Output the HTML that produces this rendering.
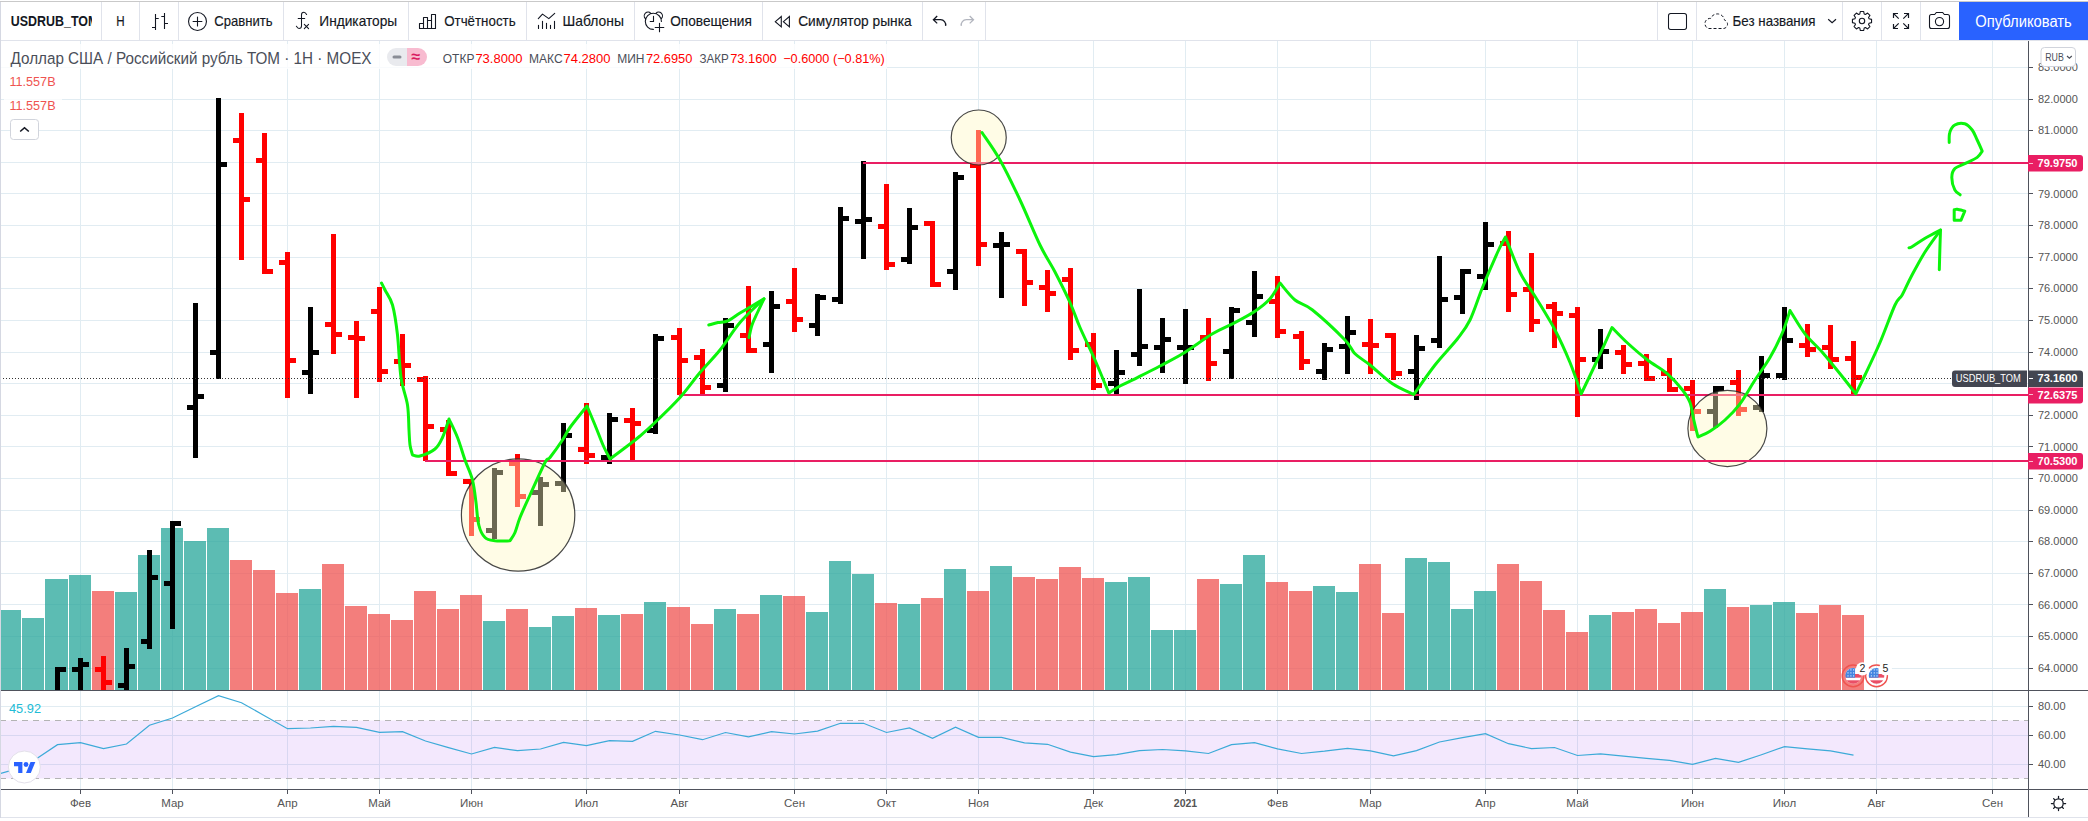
<!DOCTYPE html>
<html lang="ru"><head><meta charset="utf-8"><title>USDRUB_TOM</title>
<style>html,body{margin:0;padding:0;background:#fff;width:2088px;height:821px;overflow:hidden}svg text{white-space:pre}</style></head>
<body>
<svg id="chart" width="2088" height="821" viewBox="0 0 2088 821" style="position:absolute;left:0;top:0" font-family='"Liberation Sans", sans-serif'>
<defs><clipPath id="cp"><rect x="0" y="41" width="2028" height="649"/></clipPath><clipPath id="cr"><rect x="0" y="691" width="2028" height="98"/></clipPath></defs>
<g shape-rendering="crispEdges" fill="#e1ecf2">
<rect x="80" y="41" width="1" height="748"/>
<rect x="172" y="41" width="1" height="748"/>
<rect x="287" y="41" width="1" height="748"/>
<rect x="379" y="41" width="1" height="748"/>
<rect x="471" y="41" width="1" height="748"/>
<rect x="586" y="41" width="1" height="748"/>
<rect x="679" y="41" width="1" height="748"/>
<rect x="794" y="41" width="1" height="748"/>
<rect x="886" y="41" width="1" height="748"/>
<rect x="978" y="41" width="1" height="748"/>
<rect x="1093" y="41" width="1" height="748"/>
<rect x="1185" y="41" width="1" height="748"/>
<rect x="1277" y="41" width="1" height="748"/>
<rect x="1370" y="41" width="1" height="748"/>
<rect x="1485" y="41" width="1" height="748"/>
<rect x="1577" y="41" width="1" height="748"/>
<rect x="1692" y="41" width="1" height="748"/>
<rect x="1784" y="41" width="1" height="748"/>
<rect x="1876" y="41" width="1" height="748"/>
<rect x="1992" y="41" width="1" height="748"/>
<rect x="0" y="668" width="2028" height="1"/>
<rect x="0" y="636" width="2028" height="1"/>
<rect x="0" y="604" width="2028" height="1"/>
<rect x="0" y="573" width="2028" height="1"/>
<rect x="0" y="541" width="2028" height="1"/>
<rect x="0" y="510" width="2028" height="1"/>
<rect x="0" y="478" width="2028" height="1"/>
<rect x="0" y="446" width="2028" height="1"/>
<rect x="0" y="415" width="2028" height="1"/>
<rect x="0" y="383" width="2028" height="1"/>
<rect x="0" y="352" width="2028" height="1"/>
<rect x="0" y="320" width="2028" height="1"/>
<rect x="0" y="288" width="2028" height="1"/>
<rect x="0" y="257" width="2028" height="1"/>
<rect x="0" y="225" width="2028" height="1"/>
<rect x="0" y="193" width="2028" height="1"/>
<rect x="0" y="162" width="2028" height="1"/>
<rect x="0" y="130" width="2028" height="1"/>
<rect x="0" y="99" width="2028" height="1"/>
<rect x="0" y="67" width="2028" height="1"/>
<rect x="0" y="706" width="2028" height="1"/>
<rect x="0" y="735" width="2028" height="1"/>
<rect x="0" y="764" width="2028" height="1"/>
</g>
<g clip-path="url(#cp)" shape-rendering="crispEdges">
<rect x="1" y="610" width="20" height="80" fill="rgba(38,166,154,0.75)"/>
<rect x="22" y="618" width="22" height="72" fill="rgba(38,166,154,0.75)"/>
<rect x="45" y="579" width="23" height="111" fill="rgba(38,166,154,0.75)"/>
<rect x="69" y="575" width="22" height="115" fill="rgba(38,166,154,0.75)"/>
<rect x="92" y="591" width="22" height="99" fill="rgba(239,83,80,0.75)"/>
<rect x="115" y="592" width="22" height="98" fill="rgba(38,166,154,0.75)"/>
<rect x="138" y="555" width="22" height="135" fill="rgba(38,166,154,0.75)"/>
<rect x="161" y="528" width="22" height="162" fill="rgba(38,166,154,0.75)"/>
<rect x="184" y="541" width="22" height="149" fill="rgba(38,166,154,0.75)"/>
<rect x="207" y="528" width="22" height="162" fill="rgba(38,166,154,0.75)"/>
<rect x="230" y="560" width="22" height="130" fill="rgba(239,83,80,0.75)"/>
<rect x="253" y="570" width="22" height="120" fill="rgba(239,83,80,0.75)"/>
<rect x="276" y="593" width="22" height="97" fill="rgba(239,83,80,0.75)"/>
<rect x="299" y="589" width="22" height="101" fill="rgba(38,166,154,0.75)"/>
<rect x="322" y="564" width="22" height="126" fill="rgba(239,83,80,0.75)"/>
<rect x="345" y="606" width="22" height="84" fill="rgba(239,83,80,0.75)"/>
<rect x="368" y="614" width="22" height="76" fill="rgba(239,83,80,0.75)"/>
<rect x="391" y="620" width="22" height="70" fill="rgba(239,83,80,0.75)"/>
<rect x="414" y="591" width="22" height="99" fill="rgba(239,83,80,0.75)"/>
<rect x="437" y="609" width="22" height="81" fill="rgba(239,83,80,0.75)"/>
<rect x="460" y="595" width="22" height="95" fill="rgba(239,83,80,0.75)"/>
<rect x="483" y="621" width="22" height="69" fill="rgba(38,166,154,0.75)"/>
<rect x="506" y="609" width="22" height="81" fill="rgba(239,83,80,0.75)"/>
<rect x="529" y="627" width="22" height="63" fill="rgba(38,166,154,0.75)"/>
<rect x="552" y="616" width="22" height="74" fill="rgba(38,166,154,0.75)"/>
<rect x="575" y="608" width="22" height="82" fill="rgba(239,83,80,0.75)"/>
<rect x="598" y="615" width="22" height="75" fill="rgba(38,166,154,0.75)"/>
<rect x="621" y="614" width="22" height="76" fill="rgba(239,83,80,0.75)"/>
<rect x="644" y="602" width="22" height="88" fill="rgba(38,166,154,0.75)"/>
<rect x="667" y="607" width="23" height="83" fill="rgba(239,83,80,0.75)"/>
<rect x="691" y="624" width="22" height="66" fill="rgba(239,83,80,0.75)"/>
<rect x="714" y="609" width="22" height="81" fill="rgba(38,166,154,0.75)"/>
<rect x="737" y="614" width="22" height="76" fill="rgba(239,83,80,0.75)"/>
<rect x="760" y="595" width="22" height="95" fill="rgba(38,166,154,0.75)"/>
<rect x="783" y="596" width="22" height="94" fill="rgba(239,83,80,0.75)"/>
<rect x="806" y="612" width="22" height="78" fill="rgba(38,166,154,0.75)"/>
<rect x="829" y="561" width="22" height="129" fill="rgba(38,166,154,0.75)"/>
<rect x="852" y="574" width="22" height="116" fill="rgba(38,166,154,0.75)"/>
<rect x="875" y="603" width="22" height="87" fill="rgba(239,83,80,0.75)"/>
<rect x="898" y="604" width="22" height="86" fill="rgba(38,166,154,0.75)"/>
<rect x="921" y="598" width="22" height="92" fill="rgba(239,83,80,0.75)"/>
<rect x="944" y="569" width="22" height="121" fill="rgba(38,166,154,0.75)"/>
<rect x="967" y="591" width="22" height="99" fill="rgba(239,83,80,0.75)"/>
<rect x="990" y="566" width="22" height="124" fill="rgba(38,166,154,0.75)"/>
<rect x="1013" y="577" width="22" height="113" fill="rgba(239,83,80,0.75)"/>
<rect x="1036" y="579" width="22" height="111" fill="rgba(239,83,80,0.75)"/>
<rect x="1059" y="567" width="22" height="123" fill="rgba(239,83,80,0.75)"/>
<rect x="1082" y="578" width="22" height="112" fill="rgba(239,83,80,0.75)"/>
<rect x="1105" y="582" width="22" height="108" fill="rgba(38,166,154,0.75)"/>
<rect x="1128" y="577" width="22" height="113" fill="rgba(38,166,154,0.75)"/>
<rect x="1151" y="630" width="22" height="60" fill="rgba(38,166,154,0.75)"/>
<rect x="1174" y="630" width="22" height="60" fill="rgba(38,166,154,0.75)"/>
<rect x="1197" y="579" width="22" height="111" fill="rgba(239,83,80,0.75)"/>
<rect x="1220" y="584" width="22" height="106" fill="rgba(38,166,154,0.75)"/>
<rect x="1243" y="555" width="22" height="135" fill="rgba(38,166,154,0.75)"/>
<rect x="1266" y="582" width="22" height="108" fill="rgba(239,83,80,0.75)"/>
<rect x="1289" y="591" width="23" height="99" fill="rgba(239,83,80,0.75)"/>
<rect x="1313" y="586" width="22" height="104" fill="rgba(38,166,154,0.75)"/>
<rect x="1336" y="592" width="22" height="98" fill="rgba(38,166,154,0.75)"/>
<rect x="1359" y="564" width="22" height="126" fill="rgba(239,83,80,0.75)"/>
<rect x="1382" y="613" width="22" height="77" fill="rgba(239,83,80,0.75)"/>
<rect x="1405" y="558" width="22" height="132" fill="rgba(38,166,154,0.75)"/>
<rect x="1428" y="562" width="22" height="128" fill="rgba(38,166,154,0.75)"/>
<rect x="1451" y="609" width="22" height="81" fill="rgba(38,166,154,0.75)"/>
<rect x="1474" y="591" width="22" height="99" fill="rgba(38,166,154,0.75)"/>
<rect x="1497" y="564" width="22" height="126" fill="rgba(239,83,80,0.75)"/>
<rect x="1520" y="581" width="22" height="109" fill="rgba(239,83,80,0.75)"/>
<rect x="1543" y="610" width="22" height="80" fill="rgba(239,83,80,0.75)"/>
<rect x="1566" y="632" width="22" height="58" fill="rgba(239,83,80,0.75)"/>
<rect x="1589" y="615" width="22" height="75" fill="rgba(38,166,154,0.75)"/>
<rect x="1612" y="612" width="22" height="78" fill="rgba(239,83,80,0.75)"/>
<rect x="1635" y="609" width="22" height="81" fill="rgba(239,83,80,0.75)"/>
<rect x="1658" y="623" width="22" height="67" fill="rgba(239,83,80,0.75)"/>
<rect x="1681" y="612" width="22" height="78" fill="rgba(239,83,80,0.75)"/>
<rect x="1704" y="589" width="22" height="101" fill="rgba(38,166,154,0.75)"/>
<rect x="1727" y="607" width="22" height="83" fill="rgba(239,83,80,0.75)"/>
<rect x="1750" y="605" width="22" height="85" fill="rgba(38,166,154,0.75)"/>
<rect x="1773" y="602" width="22" height="88" fill="rgba(38,166,154,0.75)"/>
<rect x="1796" y="613" width="22" height="77" fill="rgba(239,83,80,0.75)"/>
<rect x="1819" y="605" width="22" height="85" fill="rgba(239,83,80,0.75)"/>
<rect x="1842" y="615" width="22" height="75" fill="rgba(239,83,80,0.75)"/>
</g>
<g fill="#fff"><circle cx="978.75" cy="137.5" r="27.5"/><ellipse cx="518.1" cy="515" rx="56.7" ry="56.2"/><ellipse cx="1727.4" cy="428.5" rx="39.5" ry="38.1"/></g>
<g clip-path="url(#cp)" shape-rendering="crispEdges">
<rect x="55" y="667" width="5" height="33" fill="#000"/>
<rect x="60" y="667" width="6" height="5" fill="#000"/>
<rect x="78" y="658" width="5" height="42" fill="#000"/>
<rect x="72" y="667" width="6" height="5" fill="#000"/>
<rect x="83" y="662" width="6" height="5" fill="#000"/>
<rect x="101" y="656" width="5" height="44" fill="#f00"/>
<rect x="95" y="667" width="6" height="5" fill="#f00"/>
<rect x="106" y="680" width="6" height="5" fill="#f00"/>
<rect x="124" y="648" width="5" height="52" fill="#000"/>
<rect x="118" y="683" width="6" height="5" fill="#000"/>
<rect x="129" y="664" width="6" height="5" fill="#000"/>
<rect x="147" y="550" width="5" height="99" fill="#000"/>
<rect x="141" y="639" width="6" height="5" fill="#000"/>
<rect x="152" y="575" width="6" height="5" fill="#000"/>
<rect x="170" y="521" width="5" height="108" fill="#000"/>
<rect x="164" y="581" width="6" height="5" fill="#000"/>
<rect x="175" y="521" width="6" height="5" fill="#000"/>
<rect x="193" y="303" width="5" height="155" fill="#000"/>
<rect x="187" y="405" width="6" height="5" fill="#000"/>
<rect x="198" y="394" width="6" height="5" fill="#000"/>
<rect x="216" y="98" width="5" height="281" fill="#000"/>
<rect x="210" y="350" width="6" height="5" fill="#000"/>
<rect x="221" y="162" width="6" height="5" fill="#000"/>
<rect x="239" y="113" width="5" height="147" fill="#f00"/>
<rect x="233" y="138" width="6" height="5" fill="#f00"/>
<rect x="244" y="197" width="6" height="5" fill="#f00"/>
<rect x="262" y="133" width="5" height="141" fill="#f00"/>
<rect x="256" y="158" width="6" height="5" fill="#f00"/>
<rect x="267" y="269" width="6" height="5" fill="#f00"/>
<rect x="285" y="252" width="5" height="146" fill="#f00"/>
<rect x="279" y="260" width="6" height="5" fill="#f00"/>
<rect x="290" y="358" width="6" height="5" fill="#f00"/>
<rect x="308" y="307" width="5" height="87" fill="#000"/>
<rect x="302" y="370" width="6" height="5" fill="#000"/>
<rect x="313" y="350" width="6" height="5" fill="#000"/>
<rect x="331" y="234" width="5" height="120" fill="#f00"/>
<rect x="325" y="322" width="6" height="5" fill="#f00"/>
<rect x="336" y="332" width="6" height="5" fill="#f00"/>
<rect x="354" y="321" width="5" height="77" fill="#f00"/>
<rect x="348" y="335" width="6" height="5" fill="#f00"/>
<rect x="359" y="336" width="6" height="5" fill="#f00"/>
<rect x="377" y="287" width="5" height="95" fill="#f00"/>
<rect x="371" y="309" width="6" height="5" fill="#f00"/>
<rect x="382" y="369" width="6" height="5" fill="#f00"/>
<rect x="400" y="334" width="5" height="52" fill="#f00"/>
<rect x="394" y="359" width="6" height="5" fill="#f00"/>
<rect x="405" y="363" width="6" height="5" fill="#f00"/>
<rect x="423" y="376" width="5" height="85" fill="#f00"/>
<rect x="417" y="377" width="6" height="5" fill="#f00"/>
<rect x="428" y="424" width="6" height="5" fill="#f00"/>
<rect x="446" y="420" width="5" height="56" fill="#f00"/>
<rect x="440" y="427" width="6" height="5" fill="#f00"/>
<rect x="451" y="471" width="6" height="5" fill="#f00"/>
<rect x="469" y="479" width="5" height="57" fill="#f00"/>
<rect x="463" y="479" width="6" height="5" fill="#f00"/>
<rect x="474" y="517" width="6" height="5" fill="#f00"/>
<rect x="492" y="468" width="5" height="71" fill="#000"/>
<rect x="486" y="528" width="6" height="5" fill="#000"/>
<rect x="497" y="470" width="6" height="5" fill="#000"/>
<rect x="515" y="454" width="5" height="53" fill="#f00"/>
<rect x="509" y="461" width="6" height="5" fill="#f00"/>
<rect x="520" y="494" width="6" height="5" fill="#f00"/>
<rect x="538" y="477" width="5" height="49" fill="#000"/>
<rect x="532" y="490" width="6" height="5" fill="#000"/>
<rect x="543" y="482" width="6" height="5" fill="#000"/>
<rect x="561" y="423" width="5" height="69" fill="#000"/>
<rect x="555" y="481" width="6" height="5" fill="#000"/>
<rect x="566" y="433" width="6" height="5" fill="#000"/>
<rect x="584" y="403" width="5" height="61" fill="#f00"/>
<rect x="578" y="447" width="6" height="5" fill="#f00"/>
<rect x="589" y="453" width="6" height="5" fill="#f00"/>
<rect x="607" y="413" width="5" height="51" fill="#000"/>
<rect x="601" y="455" width="6" height="5" fill="#000"/>
<rect x="612" y="417" width="6" height="5" fill="#000"/>
<rect x="630" y="408" width="5" height="54" fill="#f00"/>
<rect x="624" y="418" width="6" height="5" fill="#f00"/>
<rect x="635" y="421" width="6" height="5" fill="#f00"/>
<rect x="653" y="334" width="5" height="100" fill="#000"/>
<rect x="647" y="428" width="6" height="5" fill="#000"/>
<rect x="658" y="336" width="6" height="5" fill="#000"/>
<rect x="677" y="328" width="5" height="67" fill="#f00"/>
<rect x="671" y="335" width="6" height="5" fill="#f00"/>
<rect x="682" y="358" width="6" height="5" fill="#f00"/>
<rect x="700" y="349" width="5" height="45" fill="#f00"/>
<rect x="694" y="355" width="6" height="5" fill="#f00"/>
<rect x="705" y="385" width="6" height="5" fill="#f00"/>
<rect x="723" y="318" width="5" height="74" fill="#000"/>
<rect x="717" y="383" width="6" height="5" fill="#000"/>
<rect x="728" y="323" width="6" height="5" fill="#000"/>
<rect x="746" y="286" width="5" height="67" fill="#f00"/>
<rect x="740" y="333" width="6" height="5" fill="#f00"/>
<rect x="751" y="348" width="6" height="5" fill="#f00"/>
<rect x="769" y="291" width="5" height="82" fill="#000"/>
<rect x="763" y="342" width="6" height="5" fill="#000"/>
<rect x="774" y="304" width="6" height="5" fill="#000"/>
<rect x="792" y="268" width="5" height="64" fill="#f00"/>
<rect x="786" y="299" width="6" height="5" fill="#f00"/>
<rect x="797" y="317" width="6" height="5" fill="#f00"/>
<rect x="815" y="294" width="5" height="42" fill="#000"/>
<rect x="809" y="323" width="6" height="5" fill="#000"/>
<rect x="820" y="295" width="6" height="5" fill="#000"/>
<rect x="838" y="207" width="5" height="97" fill="#000"/>
<rect x="832" y="297" width="6" height="5" fill="#000"/>
<rect x="843" y="216" width="6" height="5" fill="#000"/>
<rect x="861" y="161" width="5" height="98" fill="#000"/>
<rect x="855" y="219" width="6" height="5" fill="#000"/>
<rect x="866" y="217" width="6" height="5" fill="#000"/>
<rect x="884" y="184" width="5" height="86" fill="#f00"/>
<rect x="878" y="224" width="6" height="5" fill="#f00"/>
<rect x="889" y="262" width="6" height="5" fill="#f00"/>
<rect x="907" y="208" width="5" height="56" fill="#000"/>
<rect x="901" y="257" width="6" height="5" fill="#000"/>
<rect x="912" y="225" width="6" height="5" fill="#000"/>
<rect x="930" y="221" width="5" height="66" fill="#f00"/>
<rect x="924" y="221" width="6" height="5" fill="#f00"/>
<rect x="935" y="282" width="6" height="5" fill="#f00"/>
<rect x="953" y="172" width="5" height="118" fill="#000"/>
<rect x="947" y="269" width="6" height="5" fill="#000"/>
<rect x="958" y="175" width="6" height="5" fill="#000"/>
<rect x="976" y="130" width="5" height="136" fill="#f00"/>
<rect x="970" y="163" width="6" height="5" fill="#f00"/>
<rect x="981" y="242" width="6" height="5" fill="#f00"/>
<rect x="999" y="232" width="5" height="66" fill="#000"/>
<rect x="993" y="243" width="6" height="5" fill="#000"/>
<rect x="1004" y="242" width="6" height="5" fill="#000"/>
<rect x="1022" y="249" width="5" height="57" fill="#f00"/>
<rect x="1016" y="249" width="6" height="5" fill="#f00"/>
<rect x="1027" y="280" width="6" height="5" fill="#f00"/>
<rect x="1045" y="270" width="5" height="42" fill="#f00"/>
<rect x="1039" y="285" width="6" height="5" fill="#f00"/>
<rect x="1050" y="291" width="6" height="5" fill="#f00"/>
<rect x="1068" y="268" width="5" height="92" fill="#f00"/>
<rect x="1062" y="277" width="6" height="5" fill="#f00"/>
<rect x="1073" y="348" width="6" height="5" fill="#f00"/>
<rect x="1091" y="333" width="5" height="57" fill="#f00"/>
<rect x="1085" y="342" width="6" height="5" fill="#f00"/>
<rect x="1096" y="383" width="6" height="5" fill="#f00"/>
<rect x="1114" y="350" width="5" height="44" fill="#000"/>
<rect x="1108" y="381" width="6" height="5" fill="#000"/>
<rect x="1119" y="370" width="6" height="5" fill="#000"/>
<rect x="1137" y="289" width="5" height="77" fill="#000"/>
<rect x="1131" y="352" width="6" height="5" fill="#000"/>
<rect x="1142" y="344" width="6" height="5" fill="#000"/>
<rect x="1160" y="318" width="5" height="55" fill="#000"/>
<rect x="1154" y="345" width="6" height="5" fill="#000"/>
<rect x="1165" y="337" width="6" height="5" fill="#000"/>
<rect x="1183" y="309" width="5" height="75" fill="#000"/>
<rect x="1177" y="345" width="6" height="5" fill="#000"/>
<rect x="1188" y="345" width="6" height="5" fill="#000"/>
<rect x="1206" y="318" width="5" height="63" fill="#f00"/>
<rect x="1200" y="335" width="6" height="5" fill="#f00"/>
<rect x="1211" y="361" width="6" height="5" fill="#f00"/>
<rect x="1229" y="307" width="5" height="72" fill="#000"/>
<rect x="1223" y="349" width="6" height="5" fill="#000"/>
<rect x="1234" y="308" width="6" height="5" fill="#000"/>
<rect x="1252" y="271" width="5" height="66" fill="#000"/>
<rect x="1246" y="320" width="6" height="5" fill="#000"/>
<rect x="1257" y="294" width="6" height="5" fill="#000"/>
<rect x="1275" y="276" width="5" height="62" fill="#f00"/>
<rect x="1269" y="299" width="6" height="5" fill="#f00"/>
<rect x="1280" y="329" width="6" height="5" fill="#f00"/>
<rect x="1299" y="331" width="5" height="39" fill="#f00"/>
<rect x="1293" y="334" width="6" height="5" fill="#f00"/>
<rect x="1304" y="359" width="6" height="5" fill="#f00"/>
<rect x="1322" y="343" width="5" height="37" fill="#000"/>
<rect x="1316" y="369" width="6" height="5" fill="#000"/>
<rect x="1327" y="347" width="6" height="5" fill="#000"/>
<rect x="1345" y="316" width="5" height="58" fill="#000"/>
<rect x="1339" y="344" width="6" height="5" fill="#000"/>
<rect x="1350" y="330" width="6" height="5" fill="#000"/>
<rect x="1368" y="319" width="5" height="55" fill="#f00"/>
<rect x="1362" y="342" width="6" height="5" fill="#f00"/>
<rect x="1373" y="343" width="6" height="5" fill="#f00"/>
<rect x="1391" y="333" width="5" height="47" fill="#f00"/>
<rect x="1385" y="333" width="6" height="5" fill="#f00"/>
<rect x="1396" y="371" width="6" height="5" fill="#f00"/>
<rect x="1414" y="335" width="5" height="65" fill="#000"/>
<rect x="1408" y="369" width="6" height="5" fill="#000"/>
<rect x="1419" y="346" width="6" height="5" fill="#000"/>
<rect x="1437" y="256" width="5" height="92" fill="#000"/>
<rect x="1431" y="338" width="6" height="5" fill="#000"/>
<rect x="1442" y="297" width="6" height="5" fill="#000"/>
<rect x="1460" y="269" width="5" height="45" fill="#000"/>
<rect x="1454" y="295" width="6" height="5" fill="#000"/>
<rect x="1465" y="269" width="6" height="5" fill="#000"/>
<rect x="1483" y="222" width="5" height="68" fill="#000"/>
<rect x="1477" y="274" width="6" height="5" fill="#000"/>
<rect x="1488" y="242" width="6" height="5" fill="#000"/>
<rect x="1506" y="231" width="5" height="81" fill="#f00"/>
<rect x="1500" y="241" width="6" height="5" fill="#f00"/>
<rect x="1511" y="292" width="6" height="5" fill="#f00"/>
<rect x="1529" y="253" width="5" height="79" fill="#f00"/>
<rect x="1523" y="287" width="6" height="5" fill="#f00"/>
<rect x="1534" y="319" width="6" height="5" fill="#f00"/>
<rect x="1552" y="302" width="5" height="46" fill="#f00"/>
<rect x="1546" y="304" width="6" height="5" fill="#f00"/>
<rect x="1557" y="311" width="6" height="5" fill="#f00"/>
<rect x="1575" y="307" width="5" height="110" fill="#f00"/>
<rect x="1569" y="313" width="6" height="5" fill="#f00"/>
<rect x="1580" y="357" width="6" height="5" fill="#f00"/>
<rect x="1598" y="329" width="5" height="40" fill="#000"/>
<rect x="1592" y="357" width="6" height="5" fill="#000"/>
<rect x="1603" y="349" width="6" height="5" fill="#000"/>
<rect x="1621" y="345" width="5" height="29" fill="#f00"/>
<rect x="1615" y="350" width="6" height="5" fill="#f00"/>
<rect x="1626" y="362" width="6" height="5" fill="#f00"/>
<rect x="1644" y="354" width="5" height="27" fill="#f00"/>
<rect x="1638" y="361" width="6" height="5" fill="#f00"/>
<rect x="1649" y="376" width="6" height="5" fill="#f00"/>
<rect x="1667" y="358" width="5" height="34" fill="#f00"/>
<rect x="1661" y="371" width="6" height="5" fill="#f00"/>
<rect x="1672" y="387" width="6" height="5" fill="#f00"/>
<rect x="1690" y="380" width="5" height="51" fill="#f00"/>
<rect x="1684" y="386" width="6" height="5" fill="#f00"/>
<rect x="1695" y="409" width="6" height="5" fill="#f00"/>
<rect x="1713" y="386" width="5" height="42" fill="#000"/>
<rect x="1707" y="409" width="6" height="5" fill="#000"/>
<rect x="1718" y="386" width="6" height="5" fill="#000"/>
<rect x="1736" y="370" width="5" height="46" fill="#f00"/>
<rect x="1730" y="380" width="6" height="5" fill="#f00"/>
<rect x="1741" y="407" width="6" height="5" fill="#f00"/>
<rect x="1759" y="356" width="5" height="56" fill="#000"/>
<rect x="1753" y="405" width="6" height="5" fill="#000"/>
<rect x="1764" y="373" width="6" height="5" fill="#000"/>
<rect x="1782" y="307" width="5" height="73" fill="#000"/>
<rect x="1776" y="373" width="6" height="5" fill="#000"/>
<rect x="1787" y="338" width="6" height="5" fill="#000"/>
<rect x="1805" y="324" width="5" height="33" fill="#f00"/>
<rect x="1799" y="343" width="6" height="5" fill="#f00"/>
<rect x="1810" y="347" width="6" height="5" fill="#f00"/>
<rect x="1828" y="325" width="5" height="44" fill="#f00"/>
<rect x="1822" y="345" width="6" height="5" fill="#f00"/>
<rect x="1833" y="357" width="6" height="5" fill="#f00"/>
<rect x="1851" y="341" width="5" height="53" fill="#f00"/>
<rect x="1845" y="356" width="6" height="5" fill="#f00"/>
<rect x="1856" y="375" width="6" height="5" fill="#f00"/>
</g>
<line x1="0" y1="378.5" x2="1952" y2="378.5" stroke="#333" stroke-width="1" stroke-dasharray="1 2" shape-rendering="crispEdges"/>
<g shape-rendering="crispEdges" fill="#e91e63">
<rect x="863" y="162" width="1165" height="2"/>
<rect x="679" y="394" width="1349" height="2"/>
</g>
<circle cx="978.75" cy="137.5" r="27.5" fill="rgba(255,249,196,0.42)" stroke="rgba(40,40,40,0.85)" stroke-width="1.2"/>
<ellipse cx="518.1" cy="515" rx="56.7" ry="56.2" fill="rgba(255,249,196,0.42)" stroke="rgba(40,40,40,0.85)" stroke-width="1.2"/>
<ellipse cx="1727.4" cy="428.5" rx="39.5" ry="38.1" fill="rgba(255,249,196,0.42)" stroke="rgba(40,40,40,0.85)" stroke-width="1.2"/>
<rect x="425" y="460" width="1603" height="2" fill="#e91e63" shape-rendering="crispEdges"/>
<g fill="none" stroke="#0cf40c" stroke-width="3" stroke-linejoin="round" stroke-linecap="round">
<path d="M381.5 283.0 C382.1 284.2 383.2 286.3 385.0 290.0 C386.8 293.7 390.4 297.5 392.5 305.0 C394.6 312.5 396.1 322.9 397.5 335.0 C398.9 347.1 399.3 365.8 401.0 377.5 C402.7 389.2 406.2 396.2 407.5 405.0 C408.8 413.8 408.6 423.3 409.0 430.0 C409.4 436.7 409.4 440.8 410.0 445.0 C410.6 449.2 412.1 453.3 412.5 455.0 C413.8 455.2 416.2 457.0 420.0 456.0 C423.8 455.0 431.2 452.1 435.0 449.0 C438.8 445.9 440.2 442.5 442.5 437.5 C444.8 432.5 447.9 422.1 449.0 419.0 C450.4 422.1 454.8 430.7 457.5 437.5 C460.2 444.3 462.5 452.9 465.0 460.0 C467.5 467.1 470.7 472.9 472.5 480.0 C474.3 487.1 475.0 495.0 476.0 502.5 C477.0 510.0 477.2 519.2 478.8 525.0 C480.2 530.8 482.3 534.9 485.0 537.5 C487.7 540.1 490.8 540.2 495.0 540.8 C499.2 541.3 507.5 540.8 510.0 540.8 C510.8 539.4 513.3 536.4 515.0 532.5 C516.7 528.6 517.5 523.8 520.0 517.5 C522.5 511.2 525.8 504.2 530.0 495.0 C534.2 485.8 541.7 468.8 545.0 462.5 C548.3 456.2 547.1 461.2 550.0 457.5 C552.9 453.8 559.2 445.0 562.5 440.0 C565.8 435.0 565.9 433.2 570.0 427.5 C574.1 421.8 584.2 409.6 587.0 406.0 C588.3 409.2 592.3 418.5 595.0 425.0 C597.7 431.5 600.5 439.3 603.0 445.0 C605.5 450.7 608.8 456.7 610.0 459.0 C613.3 456.5 625.0 447.8 630.0 444.0 C635.0 440.2 635.8 439.6 640.0 436.0 C644.2 432.4 648.3 428.9 655.0 422.5 C661.7 416.1 672.5 405.8 680.0 397.5 C687.5 389.2 693.3 380.4 700.0 372.5 C706.7 364.6 713.3 358.3 720.0 350.0 C726.7 341.7 732.7 331.0 740.0 322.5 C747.3 314.0 760.0 302.7 764.0 298.8"/>
<path d="M708.8 325.0 C710.3 324.6 714.9 323.2 718.0 322.5 C721.1 321.8 723.8 322.6 727.5 321.0 C731.2 319.4 735.9 315.5 740.0 313.0 C744.1 310.5 748.0 308.4 752.0 306.0 C756.0 303.6 762.0 300.0 764.0 298.8 C762.9 301.0 759.5 308.1 757.5 312.5 C755.5 316.9 753.4 320.8 752.0 325.0 C750.6 329.2 749.5 335.4 749.0 337.5"/>
<path d="M982.0 132.5 C985.0 137.1 993.7 148.8 1000.0 160.0 C1006.3 171.2 1013.3 185.8 1020.0 200.0 C1026.7 214.2 1034.2 233.0 1040.0 245.0 C1045.8 257.0 1050.0 262.4 1055.0 272.0 C1060.0 281.6 1065.8 293.2 1070.0 302.5 C1074.2 311.8 1075.8 317.9 1080.0 327.5 C1084.2 337.1 1090.2 349.1 1095.0 360.0 C1099.8 370.9 1106.5 387.5 1108.8 393.0 C1110.6 391.8 1115.6 388.4 1120.0 386.0 C1124.4 383.6 1128.3 382.1 1135.0 378.8 C1141.7 375.4 1152.1 370.2 1160.0 366.0 C1167.9 361.8 1173.8 359.1 1182.5 353.8 C1191.2 348.4 1204.2 338.8 1212.5 333.8 C1220.8 328.8 1225.4 327.5 1232.5 323.8 C1239.6 320.0 1248.8 315.4 1255.0 311.2 C1261.2 307.1 1265.8 303.5 1270.0 298.8 C1274.2 294.0 1278.3 285.6 1280.0 283.0 C1282.5 285.8 1289.6 295.5 1295.0 300.0 C1300.4 304.5 1304.2 303.3 1312.5 310.0 C1320.8 316.7 1337.9 332.7 1345.0 340.0 C1352.1 347.3 1350.8 349.6 1355.0 353.8 C1359.2 357.9 1363.8 360.0 1370.0 365.0 C1376.2 370.0 1385.2 378.8 1392.5 383.8 C1399.8 388.7 1410.2 392.7 1413.8 394.5 C1417.3 389.6 1427.7 374.3 1435.0 365.0 C1442.3 355.7 1451.7 346.2 1457.5 338.8 C1463.3 331.2 1465.8 328.5 1470.0 320.0 C1474.2 311.5 1477.9 298.8 1482.5 287.5 C1487.1 276.2 1493.7 260.9 1497.5 252.5 C1501.3 244.1 1504.2 239.6 1505.5 237.0 C1507.9 242.9 1515.1 262.6 1520.0 272.5 C1524.9 282.4 1529.2 286.7 1535.0 296.2 C1540.8 305.8 1549.2 319.0 1555.0 330.0 C1560.8 341.0 1565.6 351.9 1570.0 362.5 C1574.4 373.1 1579.4 388.5 1581.2 393.8 C1583.5 389.0 1589.9 376.0 1595.0 365.0 C1600.1 354.0 1609.2 333.8 1612.0 327.5 C1614.6 330.1 1621.6 337.6 1627.5 343.0 C1633.4 348.4 1640.8 354.9 1647.5 360.0 C1654.2 365.1 1661.7 368.8 1667.5 373.8 C1673.3 378.8 1678.8 385.2 1682.5 390.0 C1686.2 394.8 1688.1 397.5 1690.0 402.5 C1691.9 407.5 1692.4 414.2 1693.8 420.0 C1695.1 425.8 1697.3 434.2 1698.0 437.0 C1700.0 436.0 1705.5 434.1 1710.0 431.2 C1714.5 428.4 1720.0 424.6 1725.0 420.0 C1730.0 415.4 1735.0 410.4 1740.0 403.8 C1745.0 397.1 1750.0 387.7 1755.0 380.0 C1760.0 372.3 1765.4 365.4 1770.0 357.5 C1774.6 349.6 1779.2 340.3 1782.5 332.5 C1785.8 324.7 1788.8 314.2 1790.0 310.5 C1792.5 314.4 1799.6 326.8 1805.0 333.8 C1810.4 340.8 1816.7 345.8 1822.5 352.5 C1828.3 359.2 1834.5 366.9 1840.0 373.8 C1845.5 380.6 1853.1 390.4 1855.8 393.8 C1857.3 390.6 1861.0 383.5 1865.0 375.0 C1869.0 366.5 1875.0 354.2 1880.0 342.5 C1885.0 330.8 1891.3 313.0 1895.0 305.0 C1898.7 297.0 1899.6 299.4 1902.3 294.7 C1905.0 290.0 1907.2 284.1 1911.0 277.0 C1914.8 269.9 1920.1 259.8 1925.0 252.0 C1929.9 244.2 1937.9 233.7 1940.5 230.0"/>
<path d="M1909.0 247.8 C1909.5 247.6 1909.4 248.4 1912.0 246.8 C1914.6 245.2 1920.0 241.3 1924.7 238.5 C1929.5 235.7 1937.9 231.4 1940.5 230.0 C1940.4 232.5 1940.2 238.4 1940.0 245.0 C1939.8 251.6 1939.4 265.7 1939.3 269.8"/>
<path d="M1949.2 142.4 C1949.3 140.7 1948.8 135.3 1949.8 132.4 C1950.7 129.5 1952.2 126.5 1954.8 125.0 C1957.2 123.5 1961.8 122.9 1964.8 123.7 C1967.7 124.5 1970.1 127.3 1972.2 130.0 C1974.3 132.7 1975.5 136.5 1977.2 140.0 C1978.9 143.5 1981.4 149.3 1982.2 151.2 C1981.4 152.2 1980.1 155.3 1977.2 157.4 C1974.3 159.5 1968.5 161.7 1964.8 163.6 C1961.0 165.5 1956.9 166.3 1954.8 168.6 C1952.6 170.9 1951.8 173.8 1951.8 177.4 C1951.8 181.0 1953.3 187.0 1954.8 189.9 C1956.2 192.8 1959.3 194.0 1960.2 194.8"/>
<path d="M1954.2 209.8 C1954.2 211.6 1954.2 218.6 1954.2 220.3 C1955.4 220.3 1959.9 220.3 1961.0 220.3 C1961.6 218.8 1964.1 212.6 1964.8 211.1 C1963.5 210.8 1959.0 209.5 1957.2 209.3 C1955.5 209.1 1954.8 209.7 1954.2 209.8"/>
</g>
<rect x="0" y="720.5" width="2028" height="58" fill="rgba(150,50,235,0.11)"/>
<g stroke="#b4b4b4" stroke-width="1" stroke-dasharray="5.5 5.5" shape-rendering="crispEdges">
<line x1="0" y1="720.5" x2="2028" y2="720.5"/><line x1="0" y1="778.5" x2="2028" y2="778.5"/></g>
<path d="M-11.5 777.0 L10.5 770.7 L33.5 760.7 L57.5 744.7 L80.5 742.7 L103.5 748.7 L126.5 744.0 L149.5 725.3 L172.5 718.0 L195.5 706.7 L218.5 695.7 L241.5 702.7 L264.5 715.7 L287.5 728.7 L310.5 728.0 L333.5 726.3 L356.5 727.3 L379.5 732.3 L402.5 731.7 L425.5 741.0 L448.5 747.7 L471.5 754.0 L494.5 747.3 L517.5 750.7 L540.5 749.0 L563.5 742.3 L586.5 745.7 L609.5 740.7 L632.5 741.3 L655.5 731.3 L679.5 735.0 L702.5 739.7 L725.5 732.5 L748.5 736.8 L771.5 731.7 L794.5 734.0 L817.5 731.1 L840.5 723.3 L863.5 723.3 L886.5 732.5 L909.5 727.9 L932.5 738.3 L955.5 727.1 L978.5 737.4 L1001.5 737.4 L1024.5 742.9 L1047.5 744.3 L1070.5 752.1 L1093.5 756.7 L1116.5 754.7 L1139.5 750.6 L1162.5 749.5 L1185.5 750.9 L1208.5 753.5 L1231.5 744.6 L1254.5 742.6 L1277.5 748.9 L1301.5 753.5 L1324.5 751.2 L1347.5 748.3 L1370.5 750.9 L1393.5 755.8 L1416.5 750.6 L1439.5 742.0 L1462.5 737.7 L1485.5 733.7 L1508.5 743.7 L1531.5 748.6 L1554.5 747.5 L1577.5 755.5 L1600.5 753.8 L1623.5 756.1 L1646.5 758.4 L1669.5 760.4 L1692.5 764.4 L1715.5 758.4 L1738.5 762.4 L1761.5 754.7 L1784.5 746.6 L1807.5 748.9 L1830.5 750.9 L1853.5 755.1" fill="none" stroke="#3caad8" stroke-width="1.2" clip-path="url(#cr)"/>
<g shape-rendering="crispEdges" fill="#4f525c">
<rect x="0" y="690" width="2088" height="1"/>
<rect x="0" y="789" width="2088" height="1"/>
<rect x="2028" y="41" width="1" height="776"/>
<rect x="2029" y="668" width="4" height="1"/>
<rect x="2029" y="636" width="4" height="1"/>
<rect x="2029" y="604" width="4" height="1"/>
<rect x="2029" y="573" width="4" height="1"/>
<rect x="2029" y="541" width="4" height="1"/>
<rect x="2029" y="510" width="4" height="1"/>
<rect x="2029" y="478" width="4" height="1"/>
<rect x="2029" y="446" width="4" height="1"/>
<rect x="2029" y="415" width="4" height="1"/>
<rect x="2029" y="383" width="4" height="1"/>
<rect x="2029" y="352" width="4" height="1"/>
<rect x="2029" y="320" width="4" height="1"/>
<rect x="2029" y="288" width="4" height="1"/>
<rect x="2029" y="257" width="4" height="1"/>
<rect x="2029" y="225" width="4" height="1"/>
<rect x="2029" y="193" width="4" height="1"/>
<rect x="2029" y="162" width="4" height="1"/>
<rect x="2029" y="130" width="4" height="1"/>
<rect x="2029" y="99" width="4" height="1"/>
<rect x="2029" y="67" width="4" height="1"/>
<rect x="2029" y="706" width="4" height="1"/>
<rect x="2029" y="735" width="4" height="1"/>
<rect x="2029" y="764" width="4" height="1"/>
<rect x="80" y="790" width="1" height="4"/>
<rect x="172" y="790" width="1" height="4"/>
<rect x="287" y="790" width="1" height="4"/>
<rect x="379" y="790" width="1" height="4"/>
<rect x="471" y="790" width="1" height="4"/>
<rect x="586" y="790" width="1" height="4"/>
<rect x="679" y="790" width="1" height="4"/>
<rect x="794" y="790" width="1" height="4"/>
<rect x="886" y="790" width="1" height="4"/>
<rect x="978" y="790" width="1" height="4"/>
<rect x="1093" y="790" width="1" height="4"/>
<rect x="1185" y="790" width="1" height="4"/>
<rect x="1277" y="790" width="1" height="4"/>
<rect x="1370" y="790" width="1" height="4"/>
<rect x="1485" y="790" width="1" height="4"/>
<rect x="1577" y="790" width="1" height="4"/>
<rect x="1692" y="790" width="1" height="4"/>
<rect x="1784" y="790" width="1" height="4"/>
<rect x="1876" y="790" width="1" height="4"/>
<rect x="1992" y="790" width="1" height="4"/>
</g>
<rect x="0" y="817" width="2088" height="1" fill="#e0e3eb"/>
<g font-size="11.7" fill="#555">
<text x="2038" y="671.8" textLength="39.8" lengthAdjust="spacingAndGlyphs">64.0000</text>
<text x="2038" y="640.2" textLength="39.8" lengthAdjust="spacingAndGlyphs">65.0000</text>
<text x="2038" y="608.6" textLength="39.8" lengthAdjust="spacingAndGlyphs">66.0000</text>
<text x="2038" y="577.0" textLength="39.8" lengthAdjust="spacingAndGlyphs">67.0000</text>
<text x="2038" y="545.3" textLength="39.8" lengthAdjust="spacingAndGlyphs">68.0000</text>
<text x="2038" y="513.7" textLength="39.8" lengthAdjust="spacingAndGlyphs">69.0000</text>
<text x="2038" y="482.1" textLength="39.8" lengthAdjust="spacingAndGlyphs">70.0000</text>
<text x="2038" y="450.5" textLength="39.8" lengthAdjust="spacingAndGlyphs">71.0000</text>
<text x="2038" y="418.9" textLength="39.8" lengthAdjust="spacingAndGlyphs">72.0000</text>
<text x="2038" y="387.3" textLength="39.8" lengthAdjust="spacingAndGlyphs">73.0000</text>
<text x="2038" y="355.6" textLength="39.8" lengthAdjust="spacingAndGlyphs">74.0000</text>
<text x="2038" y="324.0" textLength="39.8" lengthAdjust="spacingAndGlyphs">75.0000</text>
<text x="2038" y="292.4" textLength="39.8" lengthAdjust="spacingAndGlyphs">76.0000</text>
<text x="2038" y="260.8" textLength="39.8" lengthAdjust="spacingAndGlyphs">77.0000</text>
<text x="2038" y="229.2" textLength="39.8" lengthAdjust="spacingAndGlyphs">78.0000</text>
<text x="2038" y="197.6" textLength="39.8" lengthAdjust="spacingAndGlyphs">79.0000</text>
<text x="2038" y="165.9" textLength="39.8" lengthAdjust="spacingAndGlyphs">80.0000</text>
<text x="2038" y="134.3" textLength="39.8" lengthAdjust="spacingAndGlyphs">81.0000</text>
<text x="2038" y="102.7" textLength="39.8" lengthAdjust="spacingAndGlyphs">82.0000</text>
<text x="2038" y="71.1" textLength="39.8" lengthAdjust="spacingAndGlyphs">83.0000</text>
<text x="2038" y="709.9" textLength="27.6" lengthAdjust="spacingAndGlyphs">80.00</text>
<text x="2038" y="739.0" textLength="27.6" lengthAdjust="spacingAndGlyphs">60.00</text>
<text x="2038" y="768.0" textLength="27.6" lengthAdjust="spacingAndGlyphs">40.00</text>
</g>
<path d="M1955 370.5h72v16.5h-72a3 3 0 0 1-3-3v-10.5a3 3 0 0 1 3-3z" fill="#434651"/>
<path d="M2028 370.5h52a3 3 0 0 1 3 3v13.5h-55z" fill="#434651"/>
<path d="M2028 387.5h55v13a3 3 0 0 1-3 3h-52z" fill="#e91e63"/>
<path d="M2028 155h52a3 3 0 0 1 3 3v10.5a3 3 0 0 1-3 3h-52z" fill="#e91e63"/>
<path d="M2028 453h52a3 3 0 0 1 3 3v10.5a3 3 0 0 1-3 3h-52z" fill="#e91e63"/>
<g shape-rendering="crispEdges" fill="#fff"><rect x="2029" y="378" width="4" height="1"/><rect x="2029" y="394" width="4" height="1" opacity=".7"/><rect x="2029" y="163" width="4" height="1" opacity=".7"/><rect x="2029" y="461" width="4" height="1" opacity=".7"/></g>
<g font-size="11.2" fill="#fff" font-weight="bold">
<text x="2037.5" y="382.2" textLength="40" lengthAdjust="spacingAndGlyphs">73.1600</text>
<text x="2037.5" y="399.0" textLength="40" lengthAdjust="spacingAndGlyphs">72.6375</text>
<text x="2037.5" y="166.9" textLength="40" lengthAdjust="spacingAndGlyphs">79.9750</text>
<text x="2037.5" y="464.9" textLength="40" lengthAdjust="spacingAndGlyphs">70.5300</text>
</g>
<text x="1955.8" y="382.1" font-size="11.3" fill="#fff" textLength="65" lengthAdjust="spacingAndGlyphs">USDRUB_TOM</text>
<g font-size="11.5" fill="#555" text-anchor="middle">
<text x="80.5" y="807.2">Фев</text>
<text x="172.5" y="807.2">Мар</text>
<text x="287.5" y="807.2">Апр</text>
<text x="379.5" y="807.2">Май</text>
<text x="471.5" y="807.2">Июн</text>
<text x="586.5" y="807.2">Июл</text>
<text x="679.5" y="807.2">Авг</text>
<text x="794.5" y="807.2">Сен</text>
<text x="886.5" y="807.2">Окт</text>
<text x="978.5" y="807.2">Ноя</text>
<text x="1093.5" y="807.2">Дек</text>
<text x="1185.5" y="807.2" font-weight="bold" textLength="23.4" lengthAdjust="spacingAndGlyphs">2021</text>
<text x="1277.5" y="807.2">Фев</text>
<text x="1370.5" y="807.2">Мар</text>
<text x="1485.5" y="807.2">Апр</text>
<text x="1577.5" y="807.2">Май</text>
<text x="1692.5" y="807.2">Июн</text>
<text x="1784.5" y="807.2">Июл</text>
<text x="1876.5" y="807.2">Авг</text>
<text x="1992.5" y="807.2">Сен</text>
</g>
<text x="9" y="712.5" font-size="12.8" fill="#22bcd6">45.92</text>
<g transform="translate(2058.5 803.5)" stroke="#131722" fill="none" stroke-width="1.25" stroke-linecap="round"><circle r="4.7"/>
<line x1="5.30" y1="0.00" x2="7.10" y2="0.00"/>
<line x1="3.75" y1="3.75" x2="4.88" y2="4.88"/>
<line x1="0.00" y1="5.30" x2="0.00" y2="7.10"/>
<line x1="-3.75" y1="3.75" x2="-4.88" y2="4.88"/>
<line x1="-5.30" y1="0.00" x2="-7.10" y2="0.00"/>
<line x1="-3.75" y1="-3.75" x2="-4.88" y2="-4.88"/>
<line x1="-0.00" y1="-5.30" x2="-0.00" y2="-7.10"/>
<line x1="3.75" y1="-3.75" x2="4.88" y2="-4.88"/>
</g>
<circle cx="1853.1" cy="675.9" r="10.9" fill="none" stroke="#ef5350" stroke-width="1.4"/>
<g transform="translate(1853.2 675.8)"><clipPath id="fc1"><circle r="7.9"/></clipPath><g clip-path="url(#fc1)"><rect x="-8" y="-8" width="16" height="16" fill="#fff"/><rect x="-8" y="-1.8" width="16" height="3.65" fill="#ea4f66"/><rect x="-8" y="4.5" width="16" height="4" fill="#ea4f66"/><rect x="-8" y="-8" width="9.85" height="9.85" fill="#4285e0"/><rect x="-5.8" y="-6.5" width="1.2" height="1.2" fill="#cfe0fa"/><rect x="-5.8" y="-3.5" width="1.2" height="1.2" fill="#cfe0fa"/><rect x="-5.8" y="-0.5" width="1.2" height="1.2" fill="#cfe0fa"/><rect x="-2.9" y="-6.5" width="1.2" height="1.2" fill="#cfe0fa"/><rect x="-2.9" y="-3.5" width="1.2" height="1.2" fill="#cfe0fa"/><rect x="-2.9" y="-0.5" width="1.2" height="1.2" fill="#cfe0fa"/><rect x="-0.2" y="-6.5" width="1.2" height="1.2" fill="#cfe0fa"/><rect x="-0.2" y="-3.5" width="1.2" height="1.2" fill="#cfe0fa"/><rect x="-0.2" y="-0.5" width="1.2" height="1.2" fill="#cfe0fa"/></g></g>
<circle cx="1876.5" cy="675.9" r="10.9" fill="none" stroke="#ef5350" stroke-width="1.4"/>
<g transform="translate(1876.6 675.8)"><clipPath id="fc2"><circle r="7.9"/></clipPath><g clip-path="url(#fc2)"><rect x="-8" y="-8" width="16" height="16" fill="#fff"/><rect x="-8" y="-1.8" width="16" height="3.65" fill="#ea4f66"/><rect x="-8" y="4.5" width="16" height="4" fill="#ea4f66"/><rect x="-8" y="-8" width="9.85" height="9.85" fill="#4285e0"/><rect x="-5.8" y="-6.5" width="1.2" height="1.2" fill="#cfe0fa"/><rect x="-5.8" y="-3.5" width="1.2" height="1.2" fill="#cfe0fa"/><rect x="-5.8" y="-0.5" width="1.2" height="1.2" fill="#cfe0fa"/><rect x="-2.9" y="-6.5" width="1.2" height="1.2" fill="#cfe0fa"/><rect x="-2.9" y="-3.5" width="1.2" height="1.2" fill="#cfe0fa"/><rect x="-2.9" y="-0.5" width="1.2" height="1.2" fill="#cfe0fa"/><rect x="-0.2" y="-6.5" width="1.2" height="1.2" fill="#cfe0fa"/><rect x="-0.2" y="-3.5" width="1.2" height="1.2" fill="#cfe0fa"/><rect x="-0.2" y="-0.5" width="1.2" height="1.2" fill="#cfe0fa"/></g></g>
<circle cx="1862.4" cy="668.9" r="6.6" fill="#fff"/><text x="1862.4" y="671.9" font-size="10.5" fill="#1c1c1c" text-anchor="middle">2</text>
<circle cx="1885.4" cy="668.9" r="6.6" fill="#fff"/><text x="1885.4" y="671.9" font-size="10.5" fill="#1c1c1c" text-anchor="middle">5</text>
<circle cx="24.4" cy="767" r="16" fill="#fff" stroke="#e3e0ea" stroke-width="1"/>
<g transform="translate(14 759.7) scale(0.6)" fill="#2962ff"><path d="M14 22H7V11H0V4h14v18z"/><path d="M28 22h-8l7.5-18h8L28 22z"/><circle cx="20" cy="8" r="4"/></g>
<rect x="0" y="0" width="2088" height="41" fill="#fff"/>
<rect x="0" y="1" width="2088" height="1" fill="#c9c9c9"/>
<rect x="0" y="40" width="2088" height="1" fill="#e0e3eb"/>
<rect x="0" y="2" width="1" height="816" fill="#d5d8e2"/>
<g shape-rendering="crispEdges" fill="#e0e3eb">
<rect x="101" y="2" width="1" height="38"/>
<rect x="139" y="2" width="1" height="38"/>
<rect x="178" y="2" width="1" height="38"/>
<rect x="283" y="2" width="1" height="38"/>
<rect x="408" y="2" width="1" height="38"/>
<rect x="526" y="2" width="1" height="38"/>
<rect x="634" y="2" width="1" height="38"/>
<rect x="762" y="2" width="1" height="38"/>
<rect x="922" y="2" width="1" height="38"/>
<rect x="985" y="2" width="1" height="38"/>
<rect x="1657" y="2" width="1" height="38"/>
<rect x="1696" y="2" width="1" height="38"/>
<rect x="1842" y="2" width="1" height="38"/>
<rect x="1881" y="2" width="1" height="38"/>
<rect x="1920" y="2" width="1" height="38"/>
</g>
<clipPath id="cs"><rect x="0" y="2" width="92" height="38"/></clipPath>
<text x="10.8" y="26" font-size="14" fill="#131722" font-weight="bold" textLength="87.5" lengthAdjust="spacingAndGlyphs" clip-path="url(#cs)">USDRUB_TOM</text>
<text x="116.3" y="26" font-size="14" fill="#131722" stroke="#131722" stroke-width="0.15" textLength="8.4" lengthAdjust="spacingAndGlyphs">Н</text>
<text x="214.3" y="26" font-size="14.3" fill="#131722" stroke="#131722" stroke-width="0.15" textLength="58.3" lengthAdjust="spacingAndGlyphs">Сравнить</text>
<text x="319.3" y="26" font-size="14.3" fill="#131722" stroke="#131722" stroke-width="0.15" textLength="77.9" lengthAdjust="spacingAndGlyphs">Индикаторы</text>
<text x="444.2" y="26" font-size="14.3" fill="#131722" stroke="#131722" stroke-width="0.15" textLength="71.4" lengthAdjust="spacingAndGlyphs">Отчётность</text>
<text x="562.6" y="26" font-size="14.3" fill="#131722" stroke="#131722" stroke-width="0.15" textLength="61.3" lengthAdjust="spacingAndGlyphs">Шаблоны</text>
<text x="670.2" y="26" font-size="14.3" fill="#131722" stroke="#131722" stroke-width="0.15" textLength="81.6" lengthAdjust="spacingAndGlyphs">Оповещения</text>
<text x="798.2" y="26" font-size="14.3" fill="#131722" stroke="#131722" stroke-width="0.15" textLength="113.4" lengthAdjust="spacingAndGlyphs">Симулятор рынка</text>
<text x="1732.6" y="26" font-size="14.3" fill="#131722" stroke="#131722" stroke-width="0.15" textLength="82.8" lengthAdjust="spacingAndGlyphs">Без названия</text>
<rect x="1959" y="2" width="129" height="38" fill="#2962ff"/>
<text x="1975.2" y="27" font-size="15.6" fill="#fff" textLength="96.6" lengthAdjust="spacingAndGlyphs">Опубликовать</text>
<g fill="none" stroke="#131722" stroke-width="1.1" stroke-linecap="butt">
<path d="M155.5 14v16M155.5 18.5h3.2M152 27.5h3.5M164.5 13v16M161.3 16.5h3.2M164.5 23.5h3.5"/>
<circle cx="197.5" cy="21.5" r="8.95"/><path d="M193.1 21.5h8.8M197.5 17.1v8.8" stroke-linecap="round"/>
<path d="M306.6 14.5C305.8 13 304.9 12.2 303.9 12.2 302.4 12.2 301.5 13.2 301.5 14.8V26C301.5 27.6 300.4 28.5 299 28.5 297.9 28.5 297.2 27.6 296.4 26.3M298.2 18.5H304.7M304.3 24.3L308.6 28.65M308.6 24.3L304.3 28.65" stroke-linecap="round" stroke-width="1.05"/>
<path d="M419.5 28.5V23.5H423.5V17.5H427.5V20.5H431.5V14.5H435.5V28.5ZM423.5 23.5V28.5M427.5 20.5V28.5M431.5 20.5V28.5" stroke-linejoin="round"/>
<path d="M538.3 18.6L542.5 14.1 548.8 18.6 554.7 13.3M538.5 25.3v3.2M542.5 21.3v7.2M546.5 23.3v5.2M550.5 25.3v3.2M554.5 21.3v7.2" stroke-linejoin="round" stroke-linecap="round"/>
<path d="M661.4 21.5A8.05 8.05 0 1 0 653.35 29.4M653.5 16.4V21.5H650.2M650.8 13.3A3.8 3.8 0 0 0 645.3 18.6M655.9 13.3A3.8 3.8 0 0 1 661.4 18.6M655.2 27.5H663.8M659.5 23.2V31.8" stroke-linecap="round" stroke-linejoin="miter"/>
<path d="M781.3 16.5v10.3l-6-5.15zM789.4 16.5v10.3l-6-5.15z" stroke-linejoin="miter"/>
<path d="M937.2 16l-3.8 3.7 3.8 3.7M933.6 19.7h7a5.2 5.2 0 0 1 5 6.2" stroke-width="1.3"/>
<path d="M969.7 16l3.8 3.7-3.8 3.7M973.3 19.7h-7a5.2 5.2 0 0 0-5 6.2" stroke="#b2b5be" stroke-width="1.3"/>
<rect x="1668.5" y="13.5" width="18" height="16" rx="2.2" stroke-width="1.05"/>
<path d="M1708.5 28.5h15a4.3 4.3 0 0 0 1-8.4 7.2 7.2 0 0 0-13.8-1.7 5.2 5.2 0 0 0-2.2 10.1z" stroke-dasharray="3 2" stroke-width="1"/>
<path d="M1828.2 19.3l3.9 3.3 3.9-3.3" stroke-width="1.2"/>
<path d="M1859.81 13.93 L1860.36 11.44 L1863.64 11.44 L1864.19 13.93 L1865.45 14.45 L1867.60 13.08 L1869.92 15.40 L1868.55 17.55 L1869.07 18.81 L1871.56 19.36 L1871.56 22.64 L1869.07 23.19 L1868.55 24.45 L1869.92 26.60 L1867.60 28.92 L1865.45 27.55 L1864.19 28.07 L1863.64 30.56 L1860.36 30.56 L1859.81 28.07 L1858.55 27.55 L1856.40 28.92 L1854.08 26.60 L1855.45 24.45 L1854.93 23.19 L1852.44 22.64 L1852.44 19.36 L1854.93 18.81 L1855.45 17.55 L1854.08 15.40 L1856.40 13.08 L1858.55 14.45z" stroke-linejoin="round" stroke-width="1.1"/><circle cx="1862" cy="21" r="2.7" stroke-width="1.1"/>
<path d="M1893.5 18v-4.5h4.5M1893.7 13.7l5 5M1904 13.5h4.5v4.5M1908.3 13.7l-5 5M1893.5 24v4.5h4.5M1893.7 28.3l5-5M1904 28.5h4.5v-4.5M1908.3 28.3l-5-5" stroke-width="1.2"/>
<path d="M1931.5 14.5h3.2l1.6-2h6.4l1.6 2h3.2a2 2 0 0 1 2 2v10a2 2 0 0 1-2 2h-16a2 2 0 0 1-2-2v-10a2 2 0 0 1 2-2z" stroke-width="1.1" stroke-linejoin="round"/><circle cx="1939.5" cy="21.6" r="4.1" stroke-width="1.1"/>
</g>
<g fill="#fff" opacity="0.8"><rect x="1" y="44" width="886" height="25"/><rect x="4" y="71" width="58" height="22"/><rect x="4" y="95" width="58" height="22"/></g>
<text x="10.5" y="63.6" font-size="16.8" fill="#4a4e59" textLength="361" lengthAdjust="spacingAndGlyphs">Доллар США / Российский рубль ТОМ · 1Н · MOEX</text>
<path d="M396 48h11v18h-11a9 9 0 0 1 0-18z" fill="#e9eaee"/><path d="M407 48h11a9 9 0 0 1 0 18h-11z" fill="#f8bbd0"/>
<rect x="392.5" y="55.5" width="9" height="3" rx="1.5" fill="#8a8d96"/>
<text x="416" y="62.3" font-size="16" fill="#d81b60" text-anchor="middle" font-weight="bold">≈</text>
<text x="442.8" y="62.8" font-size="12" fill="#4a4e59" textLength="31.6" lengthAdjust="spacingAndGlyphs">ОТКР</text>
<text x="475.4" y="62.8" font-size="12.5" fill="#f00" textLength="47" lengthAdjust="spacingAndGlyphs">73.8000</text>
<text x="529" y="62.8" font-size="12" fill="#4a4e59" textLength="33.6" lengthAdjust="spacingAndGlyphs">МАКС</text>
<text x="563.5" y="62.8" font-size="12.5" fill="#f00" textLength="47" lengthAdjust="spacingAndGlyphs">74.2800</text>
<text x="617.2" y="62.8" font-size="12" fill="#4a4e59" textLength="27.3" lengthAdjust="spacingAndGlyphs">МИН</text>
<text x="645.9" y="62.8" font-size="12.5" fill="#f00" textLength="46.5" lengthAdjust="spacingAndGlyphs">72.6950</text>
<text x="699.5" y="62.8" font-size="12" fill="#4a4e59" textLength="29.3" lengthAdjust="spacingAndGlyphs">ЗАКР</text>
<text x="730.2" y="62.8" font-size="12.5" fill="#f00" textLength="46.5" lengthAdjust="spacingAndGlyphs">73.1600</text>
<text x="783.2" y="62.8" font-size="12.5" fill="#f00" textLength="101.6" lengthAdjust="spacingAndGlyphs">−0.6000 (−0.81%)</text>
<text x="9.4" y="86.2" font-size="13.2" fill="#ef5350" textLength="46.2" lengthAdjust="spacingAndGlyphs">11.557B</text>
<text x="9.4" y="110" font-size="13.2" fill="#ef5350" textLength="46.2" lengthAdjust="spacingAndGlyphs">11.557B</text>
<rect x="10.5" y="119.5" width="28" height="20" rx="3" fill="#fff" stroke="#d1d4dc"/>
<path d="M20.2 131.5l4.3-3.8 4.3 3.8" fill="none" stroke="#131722" stroke-width="1.6"/>
<rect x="2041" y="47.5" width="34.5" height="19" rx="3.5" fill="#fff" stroke="#d1d4dc"/>
<text x="2045.2" y="61.2" font-size="11" fill="#4a4e59" textLength="18.6" lengthAdjust="spacingAndGlyphs">RUB</text>
<path d="M2067 56l2.4 2.2 2.4-2.2" fill="none" stroke="#4a4e59" stroke-width="1.2"/>
</svg>
</body></html>
